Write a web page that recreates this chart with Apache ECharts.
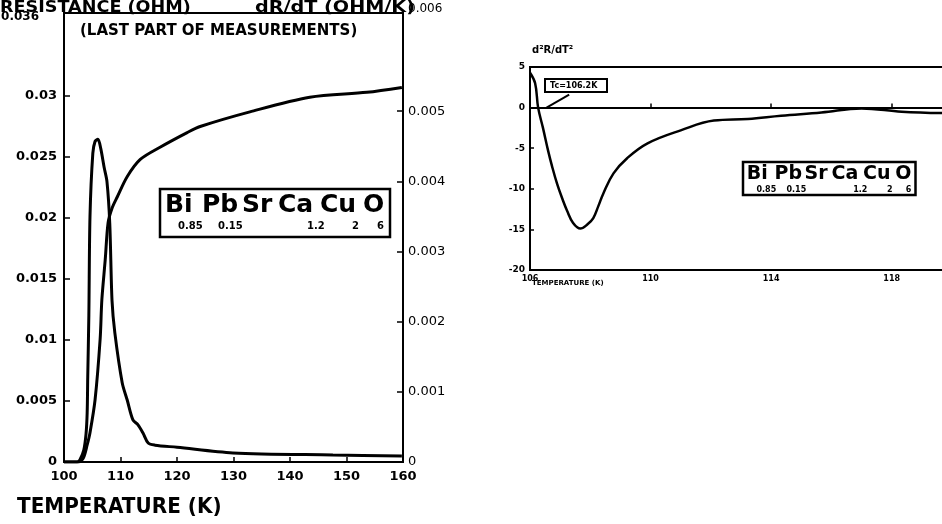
<!DOCTYPE html>
<html lang="en">

<head>
    <meta charset="UTF-8">
    <title>Resistance and derivatives</title>
    <script src="https://cdn.jsdelivr.net/npm/echarts@6/dist/echarts.min.js"></script>
    <style>
        * {
            margin: 0;
            padding: 0;
        }

        #main {
            width: 942px;
            height: 524px;
            background-color: #fff;
        }
    </style>
</head>

<body>
    <div id="main"></div>
    <script>
        // left chart: resistance (left axis) and dR/dT (right axis)
        var tempR = [100, 102.5, 103.4, 104.1, 104.6, 105.5, 106.4, 106.7, 107.3, 107.8, 108.5, 109.4, 111.2, 113.5, 117.0, 121.8, 124.1, 132.9, 143.5, 153.6, 159.8];
        var resistance = [0, 0, 0.0003, 0.0014, 0.0024, 0.0051, 0.0101, 0.0133, 0.0166, 0.0196, 0.0208, 0.0217, 0.0234, 0.0248, 0.0258, 0.0270, 0.0275, 0.0287, 0.0299, 0.0303, 0.0307];

        var tempD = [100, 102.3, 102.8, 103.5, 103.9, 104.1, 104.2, 104.4, 104.6, 105.1, 105.5, 106.0, 106.5, 107.1, 107.6, 108.1, 108.5, 109.0, 110.3, 111.2, 112.2, 113.1, 114.0, 114.9, 116.1, 120, 129.9, 147.6, 159.8];
        var dRdT = [0, 0, 0.00003, 0.00017, 0.0004, 0.0007, 0.0012, 0.0021, 0.0035, 0.0044, 0.00457, 0.0046, 0.00447, 0.0042, 0.0040, 0.0034, 0.0023, 0.00184, 0.00113, 0.00088, 0.0006, 0.00053, 0.00041, 0.00027, 0.00024, 0.00021, 0.00013, 0.0001, 0.000085];

        // right chart: d2R/dT2
        var temp2 = [106.0, 106.17, 106.27, 106.43, 106.6, 106.73, 106.9, 107.07, 107.23, 107.43, 107.67, 107.9, 108.1, 108.27, 108.43, 108.77, 109.23, 109.9, 111.0, 112.1, 113.23, 114.33, 115.67, 117.0, 118.33, 120];
        var d2RdT2 = [4.3, 3.0, 0, -2.5, -5.3, -7.2, -9.4, -11.2, -12.7, -14.2, -14.9, -14.4, -13.6, -12.1, -10.6, -8.1, -6.2, -4.4, -2.8, -1.6, -1.4, -1.0, -0.6, -0.1, -0.5, -0.7];

        // tick labels
        var leftTicks = [0, 0.005, 0.01, 0.015, 0.02, 0.025, 0.03, 0.0368];
        var leftTickLabels = ['0', '0.005', '0.01', '0.015', '0.02', '0.025', '0.03', '0.036'];
        var rightTicks = [0, 0.001, 0.002, 0.003, 0.004, 0.005, 0.0064];
        var rightTickLabels = ['0', '0.001', '0.002', '0.003', '0.004', '0.005', '0.006'];
        var smallXTicks = [106, 110, 114, 118];

        var formulaElements = ['Bi', 'Pb', 'Sr', 'Ca', 'Cu', 'O'];
        var formulaSubs = ['0.85', '0.15', '', '1.2', '2', '6'];
        var tcLabel = 'Tc=106.2K';

        function zip(xs, ys) {
            return xs.map(function (x, i) { return [x, ys[i]]; });
        }

        // the top label of each axis sits apart from the others
        function lookup(ticks, labels) {
            return function (v) {
                for (var i = 0; i < ticks.length; i++) {
                    if (Math.abs(ticks[i] - v) < 1e-9) {
                        return i === ticks.length - 1 ? '{top|' + labels[i] + '}' : labels[i];
                    }
                }
                return '';
            };
        }

        var FONT = 'DejaVu Sans';

        function label(x, y, text, size, extra) {
            var el = {
                type: 'text', x: x, y: y,
                style: { text: text, font: 'bold ' + size + 'px "' + FONT + '"', fill: '#000', verticalAlign: 'top', align: 'left' }
            };
            for (var k in (extra || {})) el[k] = extra[k];
            return el;
        }

        // the composition box, drawn at scale s
        function formulaBox(x, y, s, h) {
            var elemX = [5, 42, 82, 118, 160, 203];
            var subX = [18, 58, 0, 147, 192, 217];
            var kids = [{
                type: 'rect',
                shape: { x: 0, y: 0, width: 230 * s, height: h },
                style: { fill: '#fff', stroke: '#000', lineWidth: 2.5 }
            }];
            formulaElements.forEach(function (el, i) {
                kids.push(label(elemX[i] * s, 4 * s, el, Math.round(25 * s)));
                if (formulaSubs[i]) {
                    kids.push(label(subX[i] * s, 32 * s, formulaSubs[i], Math.max(6, Math.round(10 * s))));
                }
            });
            return { type: 'group', x: x, y: y, children: kids };
        }

        var chartDom = document.getElementById('main');
        var myChart = echarts.init(chartDom);

        var option = {
            backgroundColor: '#fff',
            animation: false,
            grid: [
                { left: 64, top: 13, width: 339, height: 449, show: true, borderColor: '#000', borderWidth: 2, containLabel: false, outerBoundsMode: 'none' },
                { left: 530, top: 67, right: -10, height: 203, show: true, borderColor: '#000', borderWidth: 2, containLabel: false, outerBoundsMode: 'none' }
            ],
            xAxis: [
                {
                    type: 'value', gridIndex: 0, min: 100, max: 160, interval: 10,
                    axisLine: { lineStyle: { color: '#000', width: 2 } },
                    axisTick: { inside: true, length: 5, lineStyle: { color: '#000', width: 1.5 } },
                    axisLabel: { color: '#000', fontFamily: FONT, fontWeight: 'bold', fontSize: 13, margin: 8 },
                    splitLine: { show: false }
                },
                {
                    type: 'value', gridIndex: 1, min: 106, max: 120,
                    axisLine: { lineStyle: { color: '#000', width: 2 } },
                    axisTick: { inside: true, length: 4, customValues: smallXTicks.slice(1), lineStyle: { color: '#000', width: 1.5 } },
                    axisLabel: { color: '#000', fontFamily: FONT, fontWeight: 'bold', fontSize: 8, margin: 5, customValues: smallXTicks },
                    splitLine: { show: false }
                }
            ],
            yAxis: [
                {
                    type: 'value', gridIndex: 0, min: 0, max: 0.0368,
                    axisLine: { show: true, lineStyle: { color: '#000', width: 2 } },
                    axisTick: { show: true, inside: true, length: 6, customValues: leftTicks.slice(0, -1), lineStyle: { color: '#000', width: 1.5 } },
                    axisLabel: {
                        color: '#000', fontFamily: FONT, fontWeight: 'bold', fontSize: 13, margin: 7,
                        customValues: leftTicks, formatter: lookup(leftTicks, leftTickLabels),
                        rich: { top: { fontFamily: FONT, fontWeight: 'bold', fontSize: 12, color: '#000', padding: [8, 18, 0, 0] } }
                    },
                    splitLine: { show: false }
                },
                {
                    type: 'value', gridIndex: 0, position: 'right', min: 0, max: 0.0064,
                    axisLine: { show: true, lineStyle: { color: '#000', width: 2 } },
                    axisTick: { show: true, inside: true, length: 6, customValues: rightTicks.slice(0, -1), lineStyle: { color: '#000', width: 1.5 } },
                    axisLabel: {
                        color: '#000', fontFamily: FONT, fontSize: 13, margin: 5,
                        customValues: rightTicks, formatter: lookup(rightTicks, rightTickLabels),
                        rich: { top: { fontFamily: FONT, fontSize: 12, color: '#000', padding: [0, 0, 8, 0] } }
                    },
                    splitLine: { show: false }
                },
                {
                    type: 'value', gridIndex: 1, min: -20, max: 5, interval: 5,
                    axisLine: { show: true, lineStyle: { color: '#000', width: 2 } },
                    axisTick: { show: true, inside: true, length: 4, lineStyle: { color: '#000', width: 1.5 } },
                    axisLabel: { color: '#000', fontFamily: FONT, fontWeight: 'bold', fontSize: 9, margin: 5 },
                    splitLine: { show: false }
                }
            ],
            series: [
                {
                    name: 'R', type: 'line', xAxisIndex: 0, yAxisIndex: 0,
                    data: zip(tempR, resistance), showSymbol: false, smooth: 0.3,
                    lineStyle: { color: '#000', width: 3 }
                },
                {
                    name: 'dR/dT', type: 'line', xAxisIndex: 0, yAxisIndex: 1,
                    data: zip(tempD, dRdT), showSymbol: false, smooth: 0.3,
                    lineStyle: { color: '#000', width: 3 }
                },
                {
                    name: 'd2R/dT2', type: 'line', xAxisIndex: 1, yAxisIndex: 2,
                    data: zip(temp2, d2RdT2), showSymbol: false, smooth: 0.4,
                    lineStyle: { color: '#000', width: 2.5 },
                    markLine: {
                        silent: true, symbol: 'none', label: { show: false },
                        lineStyle: { color: '#000', width: 2, type: 'solid' },
                        data: [
                            { yAxis: 0 },
                            [{ coord: [107.3, 1.6] }, { coord: [106.55, 0] }]
                        ]
                    }
                }
            ],
            graphic: [
                label(0, 0, 'RESISTANCE (OHM)', 16, { scaleX: 1.1 }),
                label(255, 0, 'dR/dT (OHM/K)', 16, { scaleX: 1.2 }),
                label(80, 24, '(LAST PART OF MEASUREMENTS)', 15),
                label(17, 496, 'TEMPERATURE (K)', 20, { scaleY: 1.1 }),
                formulaBox(160, 189, 1, 48),
                label(532, 45, 'd²R/dT²', 10),
                label(532, 280, 'TEMPERATURE (K)', 7),
                formulaBox(743, 162, 0.75, 33),
                {
                    type: 'group', x: 545, y: 79, children: [
                        { type: 'rect', shape: { x: 0, y: 0, width: 62, height: 13 }, style: { fill: '#fff', stroke: '#000', lineWidth: 2 } },
                        label(5, 3, tcLabel, 8)
                    ]
                }
            ]
        };

        option && myChart.setOption(option);
    </script>
</body>

</html>
